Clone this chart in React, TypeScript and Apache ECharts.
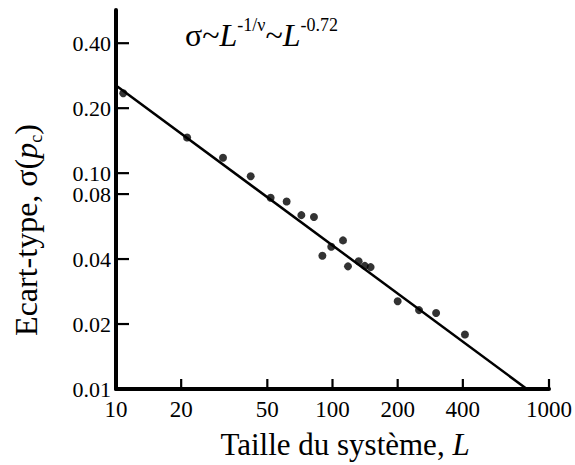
import React, { useEffect, useRef } from "react";
import * as echarts from "echarts";

// System size L and standard deviation sigma(p_c)
const sizes = [10.8, 21.3, 31.2, 41.9, 51.8, 61.4, 71.8, 82.1, 89.8, 98.7, 111.8, 117.9, 132, 141, 150, 200, 251, 301, 409];
const sigmas = [0.2346, 0.1463, 0.1178, 0.0968, 0.0769, 0.0739, 0.0639, 0.0626, 0.0414, 0.0456, 0.0488, 0.037, 0.0391, 0.0372, 0.0367, 0.0255, 0.0232, 0.0225, 0.0179];

// Fitted power law line end points
const fitL = [10, 790];
const fitSigma = [0.255, 0.01];

const xTicks = [10, 20, 50, 100, 200, 400, 1000];
const xTickMarks = [20, 50, 100, 200, 400, 1000];
const yTicks = [0.01, 0.02, 0.04, 0.08, 0.1, 0.2, 0.4];
const yTickMarks = [0.02, 0.04, 0.08, 0.1, 0.2, 0.4];

const X_MIN = 10;
const Y_MIN = 0.01;

const FONT = "'Liberation Serif', 'Times New Roman', serif";

export default function App() {
  const ref = useRef<HTMLDivElement>(null);
  useEffect(() => {
    if (!ref.current) return;
    const chart = echarts.init(ref.current, null, { renderer: "svg" });
    const tickData = [
      ...xTickMarks.map((v) => [v, Y_MIN, 0]),
      ...yTickMarks.map((v) => [X_MIN, v, 1]),
    ];
    chart.setOption({
      animation: false,
      backgroundColor: "#ffffff",
      grid: { left: 116, right: 26, top: 10, bottom: 76, containLabel: false, outerBoundsMode: "none" },
      xAxis: {
        type: "log",
        logBase: 10,
        min: 10,
        max: 1000,
        axisLine: { show: true, onZero: false, lineStyle: { color: "#000", width: 4 } },
        axisTick: { show: false },
        minorTick: { show: false },
        splitLine: { show: false },
        axisLabel: {
          customValues: xTicks,
          color: "#000",
          fontFamily: FONT,
          fontSize: 23,
          margin: 9,
          formatter: (v: number) => String(Math.round(v)),
        },
      },
      yAxis: {
        type: "log",
        logBase: 10,
        min: 0.01,
        max: 0.57,
        axisLine: { show: true, onZero: false, lineStyle: { color: "#000", width: 4 } },
        axisTick: { show: false },
        minorTick: { show: false },
        splitLine: { show: false },
        axisLabel: {
          customValues: yTicks,
          color: "#000",
          fontFamily: FONT,
          fontSize: 22,
          margin: 5,
          formatter: (v: number) => v.toFixed(2),
        },
      },
      graphic: [
        {
          type: "text",
          x: 345,
          y: 444,
          style: {
            text: "Taille du système, {i|L}",
            fontFamily: FONT,
            fontSize: 31,
            fill: "#000",
            align: "center",
            verticalAlign: "middle",
            rich: { i: { fontFamily: FONT, fontSize: 31, fontStyle: "italic", fill: "#000" } },
          },
        },
        {
          type: "text",
          x: 26,
          y: 230,
          rotation: Math.PI / 2,
          style: {
            text: "Ecart-type, σ({i|p}{sub|c})",
            fontFamily: FONT,
            fontSize: 32,
            fill: "#000",
            align: "center",
            verticalAlign: "middle",
            rich: {
              i: { fontFamily: FONT, fontSize: 32, fontStyle: "italic", fill: "#000", lineHeight: 38 },
              sub: { fontFamily: FONT, fontSize: 18, fill: "#000", verticalAlign: "bottom", lineHeight: 38 },
            },
          },
        },
        {
          type: "text",
          x: 185,
          y: 35,
          style: {
            text: "σ~{i|L}{sup|-1/ν}~{i|L}{sup|-0.72}",
            fontFamily: FONT,
            fontSize: 32,
            fill: "#000",
            align: "left",
            verticalAlign: "middle",
            rich: {
              i: { fontFamily: FONT, fontSize: 32, fontStyle: "italic", fill: "#000", lineHeight: 38 },
              sup: { fontFamily: FONT, fontSize: 18, fill: "#000", verticalAlign: "top", lineHeight: 38 },
            },
          },
        },
      ],
      series: [
        {
          type: "custom",
          silent: true,
          clip: false,
          data: tickData,
          renderItem: (params: any, api: any) => {
            const p = api.coord([api.value(0), api.value(1)]);
            const isY = api.value(2) === 1;
            const len = isY ? 13 : 10;
            return {
              type: "line",
              shape: isY
                ? { x1: p[0], y1: p[1], x2: p[0] + len, y2: p[1] }
                : { x1: p[0], y1: p[1], x2: p[0], y2: p[1] - len },
              style: { stroke: "#000", lineWidth: 2.2 },
            };
          },
        },
        {
          type: "line",
          data: fitL.map((l, i) => [l, fitSigma[i]]),
          showSymbol: false,
          symbol: "none",
          lineStyle: { color: "#000", width: 2.5 },
          silent: true,
        },
        {
          type: "scatter",
          data: sizes.map((l, i) => [l, sigmas[i]]),
          symbol: "circle",
          symbolSize: 8,
          itemStyle: { color: "#000" },
          silent: true,
        },
      ],
    });
    return () => chart.dispose();
  }, []);
  return <div ref={ref} style={{ position: "fixed", left: 0, top: 0, width: 575, height: 465 }} />;
}
